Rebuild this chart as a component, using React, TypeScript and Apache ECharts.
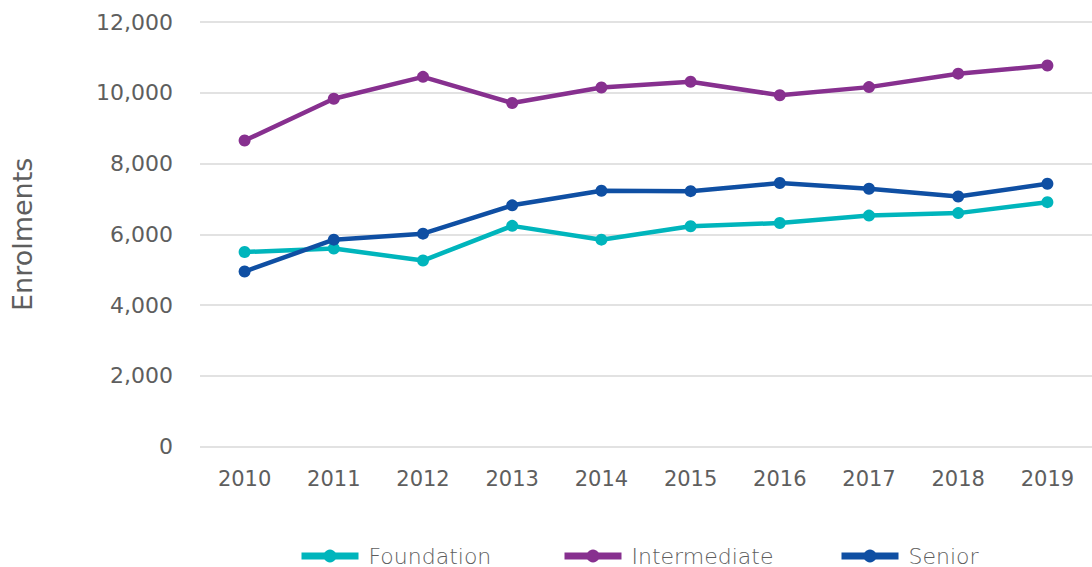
import React, { useEffect, useRef } from "react";
import * as echarts from "echarts";

const years = ["2010", "2011", "2012", "2013", "2014", "2015", "2016", "2017", "2018", "2019"];
const foundation = [5500, 5600, 5260, 6240, 5850, 6230, 6320, 6530, 6600, 6910];
const intermediate = [8650, 9830, 10450, 9710, 10150, 10310, 9930, 10160, 10540, 10770];
const senior = [4950, 5850, 6020, 6820, 7230, 7220, 7450, 7290, 7070, 7430];

const FONT = "'DejaVu Sans', sans-serif";
const TEXT = "#5E5E5E";

export default function App() {
  const ref = useRef<HTMLDivElement>(null);
  useEffect(() => {
    if (!ref.current) return;
    const chart = echarts.init(ref.current, null, { renderer: "svg" });
    const series = [
      { name: "Foundation", data: foundation, color: "#00B5BC" },
      { name: "Intermediate", data: intermediate, color: "#87308F" },
      { name: "Senior", data: senior, color: "#0F4FA3" },
    ];
    const legendLefts = [298, 561, 838];
    chart.setOption({
      animation: false,
      textStyle: { fontFamily: FONT },
      grid: { left: 200, width: 895, top: 22, height: 424.7 },
      legend: series.map((s, i) => ({
        data: [s.name],
        left: legendLefts[i],
        top: 545,
        padding: 0,
        itemWidth: 57,
        itemHeight: 16,
        itemGap: 9,
        lineStyle: { width: 7 },
        textStyle: {
          color: TEXT,
          fontSize: 22,
          lineHeight: 20,
          fontFamily: FONT,
          fontWeight: 300,
          padding: [0, 0, 0, 5],
        },
      })),
      xAxis: {
        type: "category",
        data: years,
        boundaryGap: true,
        axisLine: { show: false },
        axisTick: { show: false },
        axisLabel: { color: TEXT, fontSize: 21, margin: 22, fontFamily: FONT },
      },
      yAxis: {
        type: "value",
        min: 0,
        max: 12000,
        interval: 2000,
        name: "Enrolments",
        nameLocation: "middle",
        nameGap: 164,
        nameTextStyle: { color: TEXT, fontSize: 27, fontFamily: FONT },
        axisLine: { show: false },
        axisTick: { show: false },
        axisLabel: {
          color: TEXT,
          fontSize: 22,
          margin: 27,
          fontFamily: FONT,
          formatter: (v: number) => v.toLocaleString("en-US"),
        },
        splitLine: { lineStyle: { color: "#D9D9D9", width: 1.5 } },
      },
      series: series.map((s) => ({
        name: s.name,
        type: "line",
        data: s.data,
        color: s.color,
        symbol: "circle",
        symbolSize: 12,
        lineStyle: { width: 4.5, color: s.color },
        itemStyle: { color: s.color },
      })),
    });
    return () => chart.dispose();
  }, []);
  return (
    <div
      ref={ref}
      style={{ position: "absolute", left: 0, top: 0, width: 1092, height: 567 }}
    />
  );
}
